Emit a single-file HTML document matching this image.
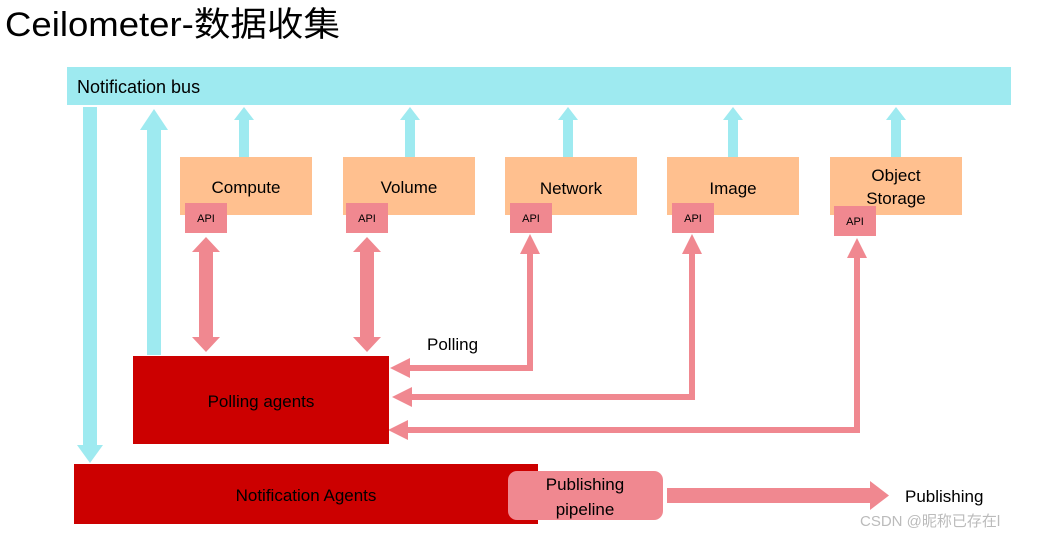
<!DOCTYPE html>
<html><head><meta charset="utf-8"><style>
html,body{margin:0;padding:0;background:#fff;width:1050px;height:537px;overflow:hidden}
svg{display:block}
text{font-family:"Liberation Sans","Noto Sans CJK SC",sans-serif}
</style></head><body>
<svg width="1050" height="537" viewBox="0 0 1050 537">
<text x="5" y="36" font-size="34" fill="#000" textLength="335" lengthAdjust="spacingAndGlyphs">Ceilometer-数据收集</text>
<rect x="67" y="67" width="944" height="38" fill="#9EEAF0"/>
<text x="77" y="93" font-size="18" fill="#000">Notification bus</text>
<rect x="83" y="107" width="14" height="340" fill="#9EEAF0"/>
<polygon points="77,445 103,445 90,463" fill="#9EEAF0"/>
<rect x="147" y="128" width="14" height="227" fill="#9EEAF0"/>
<polygon points="140,130 168,130 154,109" fill="#9EEAF0"/>
<g fill="#9EEAF0">
<rect x="239" y="118" width="10" height="40"/><polygon points="234,120 254,120 244,107"/>
<rect x="405" y="118" width="10" height="40"/><polygon points="400,120 420,120 410,107"/>
<rect x="563" y="118" width="10" height="40"/><polygon points="558,120 578,120 568,107"/>
<rect x="728" y="118" width="10" height="40"/><polygon points="723,120 743,120 733,107"/>
<rect x="891" y="118" width="10" height="40"/><polygon points="886,120 906,120 896,107"/>
</g>
<g fill="#FFC08F">
<rect x="180" y="157" width="132" height="58"/>
<rect x="343" y="157" width="132" height="58"/>
<rect x="505" y="157" width="132" height="58"/>
<rect x="667" y="157" width="132" height="58"/>
<rect x="830" y="157" width="132" height="58"/>
</g>
<g font-size="17" fill="#000" text-anchor="middle">
<text x="246" y="193">Compute</text>
<text x="409" y="193">Volume</text>
<text x="571" y="194">Network</text>
<text x="733" y="194">Image</text>
<text x="896" y="181">Object</text>
<text x="896" y="204">Storage</text>
</g>
<g fill="#F08890">
<rect x="185" y="203" width="42" height="30"/>
<rect x="346" y="203" width="42" height="30"/>
<rect x="510" y="203" width="42" height="30"/>
<rect x="672" y="203" width="42" height="30"/>
<rect x="834" y="206" width="42" height="30"/>
</g>
<g font-size="11" fill="#000" text-anchor="middle">
<text x="206" y="222">API</text>
<text x="367" y="222">API</text>
<text x="531" y="222">API</text>
<text x="693" y="222">API</text>
<text x="855" y="225">API</text>
</g>
<g fill="#F08890">
<polygon points="206,237 220,252 213,252 213,337 220,337 206,352 192,337 199,337 199,252 192,252"/>
<polygon points="367,237 381,252 374,252 374,337 381,337 367,352 353,337 360,337 360,252 353,252"/>
</g>
<g fill="none" stroke="#F08890" stroke-width="6">
<polyline points="530,252 530,368 406,368"/>
<polyline points="692,252 692,397 406,397"/>
<polyline points="857,256 857,430 406,430"/>
</g>
<g fill="#F08890">
<polygon points="520,254 540,254 530,234"/>
<polygon points="682,254 702,254 692,234"/>
<polygon points="847,258 867,258 857,238"/>
<polygon points="410,358 410,378 390,368"/>
<polygon points="412,387 412,407 392,397"/>
<polygon points="408,420 408,440 388,430"/>
</g>
<text x="427" y="350" font-size="17" fill="#000">Polling</text>
<rect x="133" y="356" width="256" height="88" fill="#CC0000"/>
<text x="261" y="407" font-size="17" fill="#000" text-anchor="middle">Polling agents</text>
<rect x="74" y="464" width="464" height="60" fill="#CC0000"/>
<text x="306" y="501" font-size="17" fill="#000" text-anchor="middle">Notification Agents</text>
<rect x="508" y="471" width="155" height="49" rx="9" fill="#F08890"/>
<text x="585" y="490" font-size="17" fill="#000" text-anchor="middle">Publishing</text>
<text x="585" y="515" font-size="17" fill="#000" text-anchor="middle">pipeline</text>
<rect x="667" y="488" width="205" height="15" fill="#F08890"/>
<polygon points="870,481 870,510 889,495.5" fill="#F08890"/>
<text x="905" y="502" font-size="17" fill="#000">Publishing</text>
<text x="860" y="526" font-size="15" fill="#bbb">CSDN @昵称已存在l</text>
</svg>
</body></html>
